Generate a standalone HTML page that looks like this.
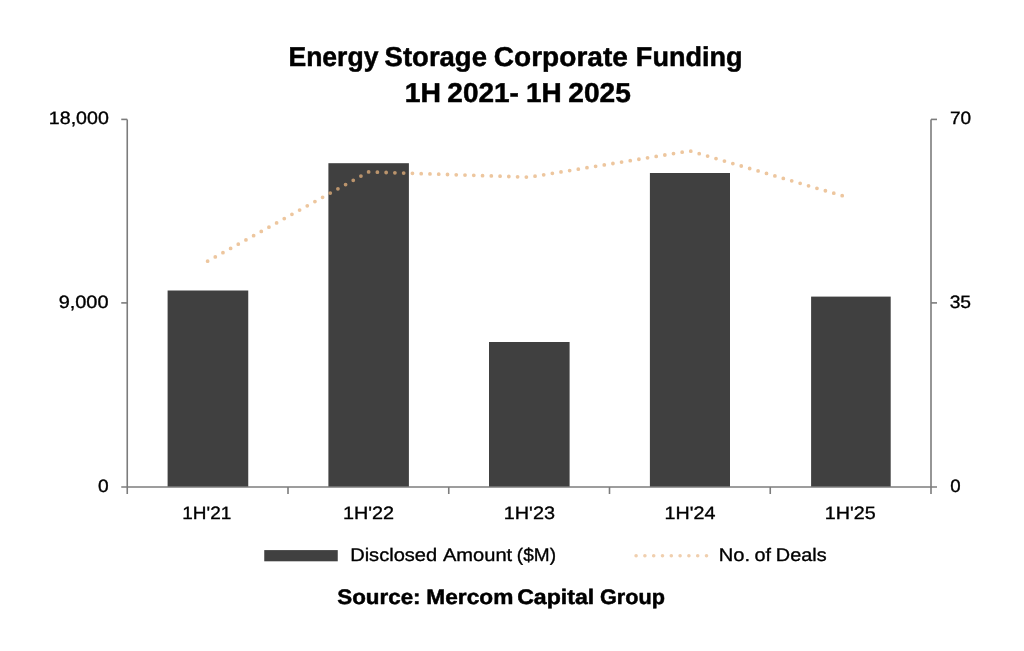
<!DOCTYPE html>
<html lang="en"><head><meta charset="utf-8"><title>Energy Storage Corporate Funding 1H 2021- 1H 2025</title>
<style>
html,body{margin:0;padding:0;background:#fff;}
body{width:1024px;height:651px;overflow:hidden;}
svg{display:block;}
text{font-family:"Liberation Sans",sans-serif;text-rendering:geometricPrecision;fill:#000;stroke:#000;stroke-width:0.35px;stroke-linejoin:round;}
text.b{stroke-width:0.5px;}
</style></head><body>
<svg width="1024" height="651" viewBox="0 0 1024 651">
<rect x="0" y="0" width="1024" height="651" fill="#ffffff"/>
<rect x="167.6" y="290.5" width="80.65" height="196.50" fill="#404040"/>
<rect x="328.4" y="163.2" width="80.50" height="323.80" fill="#404040"/>
<rect x="489" y="342" width="80.60" height="145.00" fill="#404040"/>
<rect x="649.9" y="173" width="80.10" height="314.00" fill="#404040"/>
<rect x="811.1" y="296.6" width="79.60" height="190.40" fill="#404040"/>
<g stroke="#7c7c7c" stroke-width="1.6" fill="none">
<line x1="127.25" y1="119.4" x2="127.25" y2="487.0"/>
<line x1="931.0" y1="119.4" x2="931.0" y2="487.0"/>
<line x1="121.25" y1="487.0" x2="937.0" y2="487.0"/>
<line x1="121.25" y1="119.4" x2="127.25" y2="119.4"/>
<line x1="931.0" y1="119.4" x2="937.0" y2="119.4"/>
<line x1="121.25" y1="302.9" x2="127.25" y2="302.9"/>
<line x1="931.0" y1="302.9" x2="937.0" y2="302.9"/>
<line x1="127.25" y1="487.0" x2="127.25" y2="494.0"/>
<line x1="288.00" y1="487.0" x2="288.00" y2="494.0"/>
<line x1="448.75" y1="487.0" x2="448.75" y2="494.0"/>
<line x1="609.50" y1="487.0" x2="609.50" y2="494.0"/>
<line x1="770.25" y1="487.0" x2="770.25" y2="494.0"/>
<line x1="931.00" y1="487.0" x2="931.00" y2="494.0"/>
</g>
<polyline points="207.62,261.19 368.38,171.91 529.12,177.17 689.88,150.91 847.75,197.33" fill="none" stroke="#E7B27C" stroke-opacity="0.74" stroke-width="3.8" stroke-linecap="round" stroke-linejoin="round" stroke-dasharray="0 8.768"/>
<rect x="264.25" y="550.1" width="73.5" height="11.2" fill="#404040"/>
<line x1="636.1" y1="555.7" x2="707" y2="555.7" stroke="#E7B27C" stroke-opacity="0.62" stroke-width="3.6" stroke-linecap="round" stroke-dasharray="0 8.8"/>
<text id="t0" y="66.00" font-size="27.40" font-weight="700" class="b"><tspan id="t0_0" x="288.46" textLength="89.96" lengthAdjust="spacingAndGlyphs">Energy</tspan> <tspan id="t0_1" x="384.63" textLength="102.30" lengthAdjust="spacingAndGlyphs">Storage</tspan> <tspan id="t0_2" x="493.78" textLength="134.13" lengthAdjust="spacingAndGlyphs">Corporate</tspan> <tspan id="t0_3" x="635.86" textLength="106.68" lengthAdjust="spacingAndGlyphs">Funding</tspan></text>
<text id="t1" y="102.00" font-size="27.40" font-weight="700" class="b"><tspan id="t1_0" x="404.83" textLength="36.27" lengthAdjust="spacingAndGlyphs">1H</tspan> <tspan id="t1_1" x="447.33" textLength="71.55" lengthAdjust="spacingAndGlyphs">2021-</tspan> <tspan id="t1_2" x="525.91" textLength="35.77" lengthAdjust="spacingAndGlyphs">1H</tspan> <tspan id="t1_3" x="568.33" textLength="62.53" lengthAdjust="spacingAndGlyphs">2025</tspan></text>
<text id="t2" y="124.00" font-size="17.95"><tspan id="t2_0" x="48.83" textLength="59.97" lengthAdjust="spacingAndGlyphs">18,000</tspan></text>
<text id="t3" y="308.00" font-size="17.95"><tspan id="t3_0" x="58.65" textLength="49.88" lengthAdjust="spacingAndGlyphs">9,000</tspan></text>
<text id="t4" y="492.00" font-size="17.95"><tspan id="t4_0" x="98.09" textLength="10.65" lengthAdjust="spacingAndGlyphs">0</tspan></text>
<text id="t5" y="124.00" font-size="17.95"><tspan id="t5_0" x="949.92" textLength="21.12" lengthAdjust="spacingAndGlyphs">70</tspan></text>
<text id="t6" y="308.00" font-size="17.95"><tspan id="t6_0" x="949.67" textLength="21.42" lengthAdjust="spacingAndGlyphs">35</tspan></text>
<text id="t7" y="492.00" font-size="17.95"><tspan id="t7_0" x="950.15" textLength="10.38" lengthAdjust="spacingAndGlyphs">0</tspan></text>
<text id="t8" y="519.00" font-size="17.95"><tspan id="t8_0" x="182.29" textLength="49.02" lengthAdjust="spacingAndGlyphs">1H'21</tspan></text>
<text id="t9" y="519.00" font-size="17.95"><tspan id="t9_0" x="342.96" textLength="51.16" lengthAdjust="spacingAndGlyphs">1H'22</tspan></text>
<text id="t10" y="519.00" font-size="17.95"><tspan id="t10_0" x="503.73" textLength="51.30" lengthAdjust="spacingAndGlyphs">1H'23</tspan></text>
<text id="t11" y="519.00" font-size="17.95"><tspan id="t11_0" x="664.52" textLength="50.83" lengthAdjust="spacingAndGlyphs">1H'24</tspan></text>
<text id="t12" y="519.00" font-size="17.95"><tspan id="t12_0" x="824.85" textLength="50.91" lengthAdjust="spacingAndGlyphs">1H'25</tspan></text>
<text id="t13" y="561.00" font-size="18.20"><tspan id="t13_0" x="350.16" textLength="87.02" lengthAdjust="spacingAndGlyphs">Disclosed</tspan> <tspan id="t13_1" x="442.92" textLength="69.25" lengthAdjust="spacingAndGlyphs">Amount</tspan> <tspan id="t13_2" x="516.86" textLength="39.16" lengthAdjust="spacingAndGlyphs">($M)</tspan></text>
<text id="t14" y="561.00" font-size="18.20"><tspan id="t14_0" x="718.71" textLength="31.33" lengthAdjust="spacingAndGlyphs">No.</tspan> <tspan id="t14_1" x="754.64" textLength="16.47" lengthAdjust="spacingAndGlyphs">of</tspan> <tspan id="t14_2" x="775.85" textLength="50.73" lengthAdjust="spacingAndGlyphs">Deals</tspan></text>
<text id="t15" y="604.00" font-size="21.00" font-weight="700" class="b"><tspan id="t15_0" x="337.28" textLength="83.27" lengthAdjust="spacingAndGlyphs">Source:</tspan> <tspan id="t15_1" x="426.37" textLength="86.94" lengthAdjust="spacingAndGlyphs">Mercom</tspan> <tspan id="t15_2" x="517.16" textLength="76.98" lengthAdjust="spacingAndGlyphs">Capital</tspan> <tspan id="t15_3" x="600.00" textLength="64.90" lengthAdjust="spacingAndGlyphs">Group</tspan></text>
</svg>
</body></html>
